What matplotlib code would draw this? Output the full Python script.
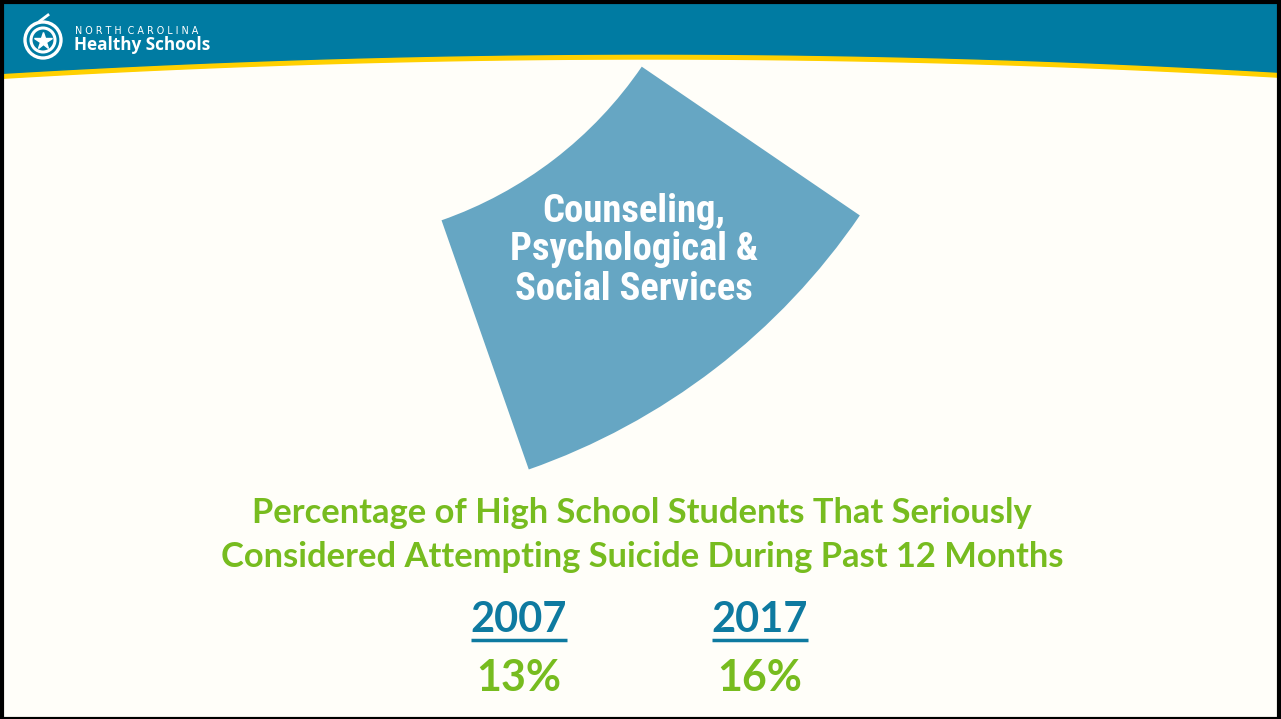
import numpy as np
import matplotlib.pyplot as plt
from matplotlib.patches import Wedge, Circle, Rectangle

# ####################################################################
# slide content

years = ["2007", "2017"]
percents = ["13%", "16%"]
year_x = [519, 760]

title_lines = ["Percentage of High School Students That Seriously",
               "Considered Attempting Suicide During Past 12 Months"]
wedge_label = ["Counseling,", "Psychological &", "Social Services"]

# wedge geometry (pixel units, y down)
wedge_center = (308, -161)
wedge_r_out = 668
wedge_r_in = 404
wedge_theta = (34.3, 70.7)

teal = "#007BA2"
yellow = "#FFD000"
wedge_col = "#66A6C3"
green = "#77BC1F"
blue = "#0E7AA0"
bg = "#FFFEF9"

# ####################################################################

fig = plt.figure(figsize=(12.81, 7.19), dpi=100)
ax = fig.add_axes([0, 0, 1, 1])
ax.set_xlim(0, 1281)
ax.set_ylim(719, 0)
ax.axis("off")
fig.patch.set_facecolor(bg)

# header band with yellow curve
x = np.linspace(0, 1281, 400)
curve = 54 + 4.6e-5 * (x - 650) ** 2
ax.fill_between(x, 0, curve + 5, color=yellow, zorder=1)
ax.fill_between(x, 0, curve, color=teal, zorder=2)

# black frame
ax.add_patch(Rectangle((2, 2), 1277, 717, fill=False, edgecolor="black", lw=3, zorder=10))

# logo
ax.add_patch(Circle((43, 40), 18, fill=False, edgecolor="white", lw=2.4, zorder=3))
ax.add_patch(Circle((43, 40), 12, fill=False, edgecolor="white", lw=2.2, zorder=3))
ax.plot(43, 40.5, marker="*", color="white", markersize=13, zorder=3)
ax.plot([40, 48], [21, 15], color="white", lw=2, zorder=3)
ax.text(75, 31, "N O R T H  C A R O L I N A", color="white", fontsize=6.9,
        va="center", ha="left", zorder=3)
ax.text(74, 45, "Healthy Schools", color="white", fontsize=12.3, fontweight="bold",
        family="Open Sans", va="center", ha="left", zorder=3)

# wedge
ax.add_patch(Wedge(wedge_center, wedge_r_out, wedge_theta[0], wedge_theta[1],
                   width=wedge_r_out - wedge_r_in, facecolor=wedge_col,
                   edgecolor="none", zorder=2))
for i, line in enumerate(wedge_label):
    ax.text(634, 211 + i * 39, line, color="white", fontsize=27.8, fontweight="bold",
            family=["Roboto Condensed", "Roboto"],
            ha="center", va="center", zorder=4)

# title
for i, line in enumerate(title_lines):
    ax.text(642, 513 + i * 44, line, color=green, fontsize=24.8, fontweight="bold",
            family="Lato", ha="center", va="center", zorder=4)

# years and values
fig.canvas.draw()
renderer = fig.canvas.get_renderer()
inv = ax.transData.inverted()
for xx, yr, pc in zip(year_x, years, percents):
    t = ax.text(xx, 620, yr, color=blue, fontsize=30, fontweight="bold",
                family="Lato", ha="center", va="center", zorder=4)
    bb = t.get_window_extent(renderer)
    (x0, _), (x1, _) = inv.transform([[bb.x0, 0], [bb.x1, 0]])
    ax.plot([x0, x1], [640, 640], color=blue, lw=2.5, solid_capstyle="butt", zorder=4)
    ax.text(xx, 678, pc, color=green, fontsize=31, fontweight="bold",
            family="Lato", ha="center", va="center", zorder=4)

plt.savefig("out.png", dpi=100, facecolor=bg)
